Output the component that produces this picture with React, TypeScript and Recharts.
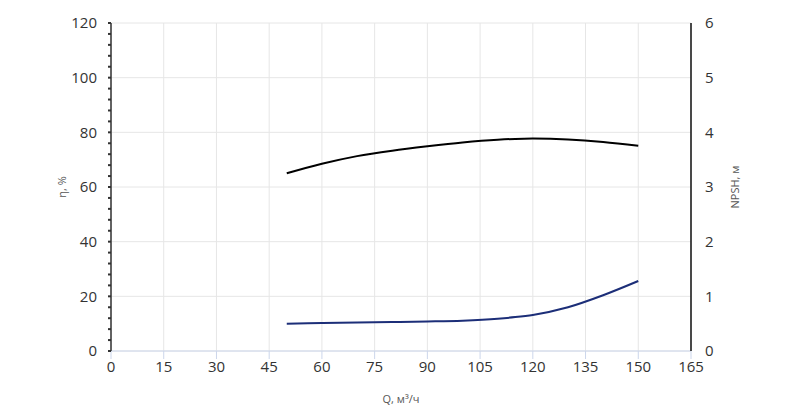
import React from 'react';
import { ComposedChart, Line, XAxis, YAxis, CartesianGrid } from 'recharts';

const flow = [50, 60, 70, 80, 90, 100, 110, 115, 120, 130, 140, 150];
const efficiency = [65, 68.5, 71.3, 73.3, 74.9, 76.3, 77.3, 77.6, 77.7, 77.4, 76.5, 75.1];
const npsh = [0.5, 0.51, 0.52, 0.53, 0.54, 0.555, 0.59, 0.62, 0.66, 0.8, 1.02, 1.28];

const xTicks = [0, 15, 30, 45, 60, 75, 90, 105, 120, 135, 150, 165];
const leftMajor = [0, 20, 40, 60, 80, 100, 120];
const leftMinor = Array.from({ length: 31 }, (_, i) => i * 4);
const rightTicks = [0, 1, 2, 3, 4, 5, 6];

const data = flow.map((q, i) => ({ q, eff: efficiency[i], npsh: npsh[i] }));

const FONT = '"Open Sans", "DejaVu Sans", sans-serif';

const LeftTick = (props: any) => {
  const { x, y, payload } = props;
  if (payload.value % 20 !== 0) return <g />;
  return (
    <text x={x} y={y} dy="0.35em" textAnchor="end" fontSize={15} fill="#333" fontFamily={FONT}>
      {payload.value}
    </text>
  );
};

export default function App() {
  return (
    <div style={{ position: 'absolute', left: 0, top: 0 }}>
      <ComposedChart
        width={800}
        height={408}
        data={data}
        margin={{ top: 23, right: 0, bottom: 0, left: 0 }}
      >
        <CartesianGrid
          stroke="#e6e6e6"
          horizontalValues={leftMajor}
          verticalValues={xTicks}
          yAxisId="left"
        />
        <XAxis
          dataKey="q"
          type="number"
          domain={[0, 165]}
          ticks={xTicks}
          height={57}
          tickSize={8}
          tickMargin={2}
          stroke="#ccd6eb"
          tick={{ fill: '#333', fontSize: 15, fontFamily: FONT }}
          label={{ value: 'Q, м³/ч', position: 'insideBottom', offset: 5, fill: '#555', fontSize: 11, fontFamily: FONT }}
        />
        <YAxis
          yAxisId="left"
          domain={[0, 120]}
          ticks={leftMinor}
          interval={0}
          width={111}
          tickSize={3}
          tickMargin={11}
          axisLine={{ stroke: '#333', strokeWidth: 1.5 }}
          tickLine={{ stroke: '#333', strokeWidth: 2 }}
          tick={<LeftTick />}
          label={{ value: 'η, %', angle: -90, position: 'center', dx: 7, fill: '#555', fontSize: 11, fontFamily: FONT }}
        />
        <YAxis
          yAxisId="right"
          orientation="right"
          domain={[0, 6]}
          ticks={rightTicks}
          interval={0}
          width={109}
          tickSize={0}
          tickMargin={14}
          tickLine={false}
          axisLine={{ stroke: '#111', strokeWidth: 1.5 }}
          tick={{ fill: '#333', fontSize: 15, fontFamily: FONT, textAnchor: 'start' }}
          label={{ value: 'NPSH, м', angle: -90, position: 'center', dx: -10, fill: '#555', fontSize: 11, fontFamily: FONT }}
        />
        <Line
          yAxisId="left"
          type="monotone"
          dataKey="eff"
          stroke="#000"
          strokeWidth={2}
          dot={false}
          isAnimationActive={false}
        />
        <Line
          yAxisId="right"
          type="monotone"
          dataKey="npsh"
          stroke="#1c2e78"
          strokeWidth={2}
          dot={false}
          isAnimationActive={false}
        />
      </ComposedChart>
    </div>
  );
}
